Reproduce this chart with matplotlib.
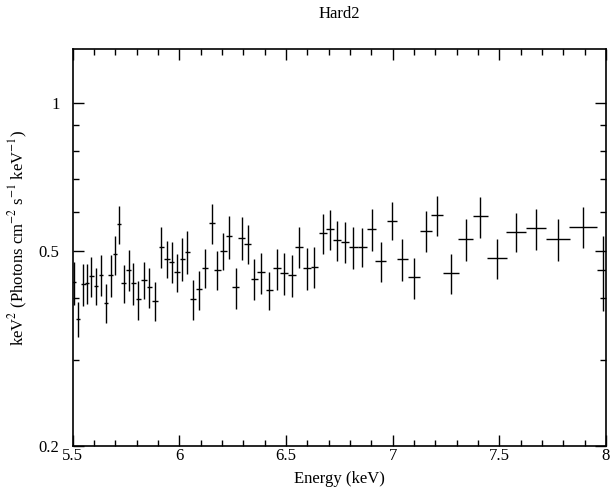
import numpy as np
from matplotlib import pyplot as plt
from matplotlib.ticker import FixedLocator, FixedFormatter, NullFormatter

plt.rcParams['font.family'] = ['Liberation Serif', 'DejaVu Serif']
plt.rcParams['mathtext.fontset'] = 'stix'

# Spectrum points (energy in keV, keV^2 flux)
energy = [5.506, 5.526, 5.550, 5.567, 5.588, 5.609, 5.633, 5.655, 5.678, 5.698,
          5.718, 5.740, 5.763, 5.784, 5.808, 5.833, 5.860, 5.888, 5.916, 5.941,
          5.964, 5.989, 6.014, 6.038, 6.064, 6.090, 6.120, 6.152, 6.178, 6.206,
          6.234, 6.264, 6.292, 6.320, 6.351, 6.383, 6.422, 6.459, 6.492, 6.527,
          6.562, 6.597, 6.633, 6.672, 6.706, 6.741, 6.778, 6.816, 6.858, 6.902,
          6.944, 6.996, 7.045, 7.100, 7.156, 7.209, 7.274, 7.342, 7.410, 7.488,
          7.578, 7.672, 7.775, 7.892, 7.986]
energy_err = [0.0105, 0.0105, 0.0105, 0.0105, 0.0105, 0.0105, 0.0105, 0.0105, 0.0105, 0.0105,
              0.0105, 0.012, 0.012, 0.012, 0.013, 0.013, 0.014, 0.014, 0.013, 0.013,
              0.013, 0.013, 0.013, 0.013, 0.013, 0.014, 0.015, 0.015, 0.015, 0.015,
              0.015, 0.015, 0.015, 0.015, 0.016, 0.017, 0.018, 0.018, 0.018, 0.018,
              0.018, 0.018, 0.018, 0.019, 0.019, 0.019, 0.019, 0.02, 0.022, 0.022,
              0.025, 0.025, 0.026, 0.028, 0.028, 0.028, 0.039, 0.034, 0.035, 0.047,
              0.047, 0.048, 0.056, 0.064, 0.03]
flux = [0.431, 0.363, 0.427, 0.429, 0.444, 0.424, 0.447, 0.392, 0.446, 0.492,
        0.566, 0.429, 0.457, 0.429, 0.398, 0.436, 0.422, 0.395, 0.510, 0.482,
        0.475, 0.452, 0.482, 0.498, 0.398, 0.417, 0.462, 0.570, 0.457, 0.500,
        0.535, 0.421, 0.532, 0.516, 0.438, 0.452, 0.416, 0.460, 0.450, 0.446,
        0.510, 0.461, 0.464, 0.543, 0.553, 0.526, 0.522, 0.509, 0.509, 0.553,
        0.476, 0.576, 0.481, 0.441, 0.549, 0.590, 0.450, 0.528, 0.588, 0.483,
        0.547, 0.555, 0.528, 0.560, 0.457]
flux_err = [0.044, 0.03, 0.042, 0.040, 0.042, 0.037, 0.042, 0.036, 0.043, 0.045,
            0.05, 0.038, 0.044, 0.042, 0.036, 0.038, 0.04, 0.036, 0.048, 0.042,
            0.046, 0.04, 0.048, 0.05, 0.037, 0.038, 0.042, 0.053, 0.042, 0.044,
            0.053, 0.041, 0.053, 0.047, 0.042, 0.043, 0.037, 0.045, 0.044, 0.043,
            0.048, 0.046, 0.045, 0.051, 0.052, 0.05, 0.051, 0.05, 0.046, 0.054,
            0.045, 0.051, 0.048, 0.042, 0.053, 0.055, 0.042, 0.052, 0.056, 0.045,
            0.05, 0.053, 0.052, 0.054, 0.08]

x_ticks = [5.5, 6, 6.5, 7, 7.5, 8]
x_labels = ['5.5', '6', '6.5', '7', '7.5', '8']
y_ticks = [0.2, 0.5, 1]
y_labels = ['0.2', '0.5', '1']

fig = plt.figure(figsize=(6.13, 4.91), dpi=100)
ax = fig.add_axes([0.1186, 0.0916, 0.87, 0.8092])

ax.errorbar(energy, flux, xerr=energy_err, yerr=flux_err, fmt='none',
            ecolor='black', elinewidth=1.0, capsize=0)

ax.set_yscale('log')
ax.set_xlim(5.5, 8)
ax.set_ylim(0.2, 1.29)

ax.xaxis.set_major_locator(FixedLocator(x_ticks))
ax.xaxis.set_major_formatter(FixedFormatter(x_labels))
ax.xaxis.set_minor_locator(FixedLocator(np.arange(5.5, 8.01, 0.1)))
ax.yaxis.set_major_locator(FixedLocator(y_ticks))
ax.yaxis.set_major_formatter(FixedFormatter(y_labels))
ax.yaxis.set_minor_locator(FixedLocator([0.3, 0.4, 0.6, 0.7, 0.8, 0.9]))
ax.yaxis.set_minor_formatter(NullFormatter())

ax.tick_params(which='both', direction='in', top=True, right=True,
               labelsize=12, width=1)
ax.tick_params(which='major', length=8)
ax.tick_params(which='minor', length=4)
ax.tick_params(axis='y', which='major', pad=9.5)
ax.tick_params(axis='x', which='major', pad=1.5)
for s in ax.spines.values():
    s.set_linewidth(1.2)

ax.set_xlabel('Energy (keV)', fontsize=12, labelpad=5)
ax.set_ylabel('keV$^2$ (Photons cm$^{-2}$ s$^{-1}$ keV$^{-1}$)', fontsize=12)
ax.yaxis.set_label_coords(-0.08, 0.525)
ax.set_title('Hard2', fontsize=12, pad=22)

plt.savefig('out.png', dpi=100)
